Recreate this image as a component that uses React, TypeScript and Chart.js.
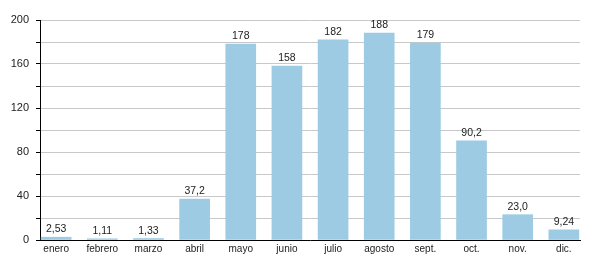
import React, { useEffect, useRef } from "react";
import { Chart, registerables } from "chart.js";

Chart.register(...registerables);

const categories = ["enero", "febrero", "marzo", "abril", "mayo", "junio", "julio", "agosto", "sept.", "oct.", "nov.", "dic."];
const values = [2.53, 1.11, 1.33, 37.2, 178, 158, 182, 188, 179, 90.2, 23.0, 9.24];
const yTicks = [0, 40, 80, 120, 160, 200];

const FONT = "'Liberation Sans', Arial, Helvetica, sans-serif";

const fmt = (v: number) => v.toPrecision(3).replace(".", ",");

const valueLabels = {
  id: "valueLabels",
  afterDatasetsDraw(chart: any) {
    const ctx = chart.ctx;
    const meta = chart.getDatasetMeta(0);
    const bottom = chart.chartArea.bottom;
    ctx.save();
    ctx.font = `10.5px ${FONT}`;
    ctx.fillStyle = "#222";
    ctx.textAlign = "center";
    ctx.textBaseline = "alphabetic";
    meta.data.forEach((bar: any, i: number) => {
      ctx.fillText(fmt(values[i]), bar.x, Math.min(bar.y - 5, bottom - 5));
    });
    ctx.restore();
  },
};

export default function App() {
  const ref = useRef<HTMLCanvasElement | null>(null);
  useEffect(() => {
    document.body.style.margin = "0";
    const chart = new Chart(ref.current!, {
      type: "bar",
      data: {
        datasets: [
          {
            data: values.map((v, i) => ({ x: i, y: v })),
            backgroundColor: "#9ccbe3",
            borderWidth: 0,
            barThickness: 30,
          },
        ],
      },
      options: {
        animation: false,
        responsive: false,
        maintainAspectRatio: false,
        layout: { padding: { top: 20, right: 20, left: 0, bottom: 0 } },
        plugins: { legend: { display: false }, tooltip: { enabled: false } },
        scales: {
          x: {
            type: "linear",
            offset: false,
            min: -0.35,
            max: 11.35,
            afterBuildTicks: (scale: any) => {
              scale.ticks = categories.map((_, i) => ({ value: i }));
            },
            afterFit: (scale: any) => {
              scale.height = 40;
            },
            grid: { display: false, drawTicks: false, offset: false },
            border: { display: true, color: "#000", width: 1 },
            ticks: {
              autoSkip: false,
              maxRotation: 0,
              padding: 3,
              color: "#222",
              font: { family: FONT, size: 10 },
              callback: (v: any) => categories[Number(v)] ?? "",
            },
          },
          y: {
            min: 0,
            max: 200,
            afterFit: (scale: any) => {
              scale.width = 40;
            },
            grid: {
              color: "#c8c8c8",
              tickColor: "#000",
              tickLength: 4,
              drawTicks: true,
            },
            border: { display: true, color: "#000", width: 1 },
            ticks: {
              stepSize: 20,
              padding: 7,
              color: "#222",
              font: { family: FONT, size: 11 },
              callback: (v: any) => (yTicks.includes(Number(v)) ? String(v) : ""),
            },
          },
        },
      },
      plugins: [valueLabels],
    });
    return () => chart.destroy();
  }, []);
  return (
    <div style={{ width: 600, height: 280 }}>
      <canvas ref={ref} width={600} height={280} />
    </div>
  );
}
